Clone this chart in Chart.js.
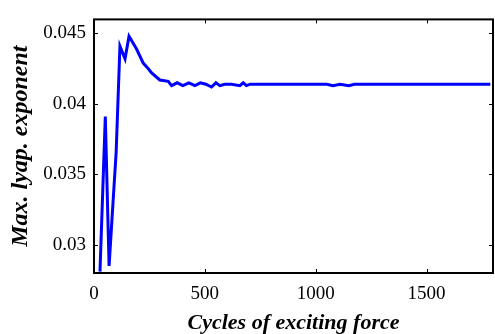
<!DOCTYPE html>
<html>
<head>
<meta charset="utf-8">
<script src="https://cdn.jsdelivr.net/npm/chart.js@4/dist/chart.umd.min.js"></script>
<style>
  html, body { margin: 0; padding: 0; background: #fff; }
  #wrap { width: 495px; height: 334px; }
</style>
</head>
<body>
<div id="wrap"><canvas id="lyap"></canvas></div>
<script>
// cycles of exciting force vs max. lyapunov exponent
const cycles = [27, 51, 68, 100, 117, 140, 158, 192, 222, 245, 260, 297, 335, 350, 375, 401, 428, 455, 480, 505,
                530, 550, 568, 590, 620, 658, 673, 688, 705, 1050, 1078, 1110, 1150, 1175, 1788];
const lyap = [0.0281, 0.0391, 0.0285, 0.0366, 0.0441, 0.0432, 0.0448, 0.0439, 0.0429, 0.0425, 0.0422, 0.0417, 0.0416, 0.0413, 0.0415, 0.0413, 0.0415, 0.0413, 0.0415, 0.0414,
              0.0412, 0.0415, 0.0413, 0.0414, 0.0414, 0.0413, 0.0415, 0.0413, 0.0414, 0.0414, 0.0413, 0.0414, 0.0413, 0.0414, 0.0414];

const xTicks = [0, 500, 1000, 1500];
const yTicks = [0.03, 0.035, 0.04, 0.045];
const yTickLabels = ['0.03', '0.035', '0.04', '0.045'];

const serif = "'Liberation Serif', 'DejaVu Serif', serif";

// matlab style box with inward ticks on all four sides
const boxTicks = {
    id: 'boxTicks',
    afterDatasetsDraw(chart) {
        const { ctx, chartArea: a, scales } = chart;
        const len = 4;
        ctx.save();
        ctx.strokeStyle = '#000';
        ctx.lineWidth = 1;
        ctx.beginPath();
        scales.x.ticks.forEach((t) => {
            const px = Math.round(scales.x.getPixelForValue(t.value)) + 0.5;
            ctx.moveTo(px, a.bottom); ctx.lineTo(px, a.bottom - len);
            ctx.moveTo(px, a.top); ctx.lineTo(px, a.top + len);
        });
        scales.y.ticks.forEach((t) => {
            const py = Math.round(scales.y.getPixelForValue(t.value)) + 0.5;
            ctx.moveTo(a.left, py); ctx.lineTo(a.left + len, py);
            ctx.moveTo(a.right, py); ctx.lineTo(a.right - len, py);
        });
        ctx.stroke();
        ctx.lineWidth = 2;
        ctx.strokeRect(a.left, a.top, a.right - a.left, a.bottom - a.top);
        ctx.restore();
    }
};

const points = cycles.map((c, i) => ({ x: c, y: lyap[i] }));

new Chart(document.getElementById('lyap'), {
    type: 'line',
    data: {
        datasets: [{
            data: points,
            borderColor: '#0000ff',
            borderWidth: 3,
            pointRadius: 0,
            tension: 0,
            fill: false
        }]
    },
    options: {
        responsive: true,
        maintainAspectRatio: false,
        animation: false,
        events: [],
        layout: { padding: { left: 0, right: 2, top: 14, bottom: 0 } },
        plugins: { legend: { display: false }, tooltip: { enabled: false } },
        scales: {
            x: {
                type: 'linear',
                min: 0,
                max: 1800,
                afterBuildTicks: (scale) => { scale.ticks = xTicks.map((v) => ({ value: v })); },
                afterFit: (scale) => { scale.height = 61; },
                grid: { display: false, drawTicks: false },
                border: { display: false },
                ticks: {
                    padding: 10,
                    color: '#000',
                    font: { family: serif, size: 19 },
                    maxRotation: 0,
                    callback: (v) => String(v)
                },
                title: {
                    display: true,
                    text: 'Cycles of exciting force',
                    color: '#000',
                    font: { family: serif, size: 22, style: 'italic', weight: 'bold' },
                    padding: { top: 0, bottom: -3 }
                }
            },
            y: {
                min: 0.028,
                max: 0.046,
                afterBuildTicks: (scale) => { scale.ticks = yTicks.map((v) => ({ value: v })); },
                afterFit: (scale) => { scale.width = 94; },
                grid: { display: false, drawTicks: false },
                border: { display: false },
                ticks: {
                    padding: 8,
                    color: '#000',
                    font: { family: serif, size: 19 },
                    callback: (v) => yTickLabels[yTicks.indexOf(v)]
                },
                title: {
                    display: true,
                    text: 'Max. lyap. exponent',
                    color: '#000',
                    font: { family: serif, size: 24, style: 'italic', weight: 'bold' },
                    padding: { top: 6, bottom: 0 }
                }
            }
        }
    },
    plugins: [boxTicks]
});
</script>
</body>
</html>
